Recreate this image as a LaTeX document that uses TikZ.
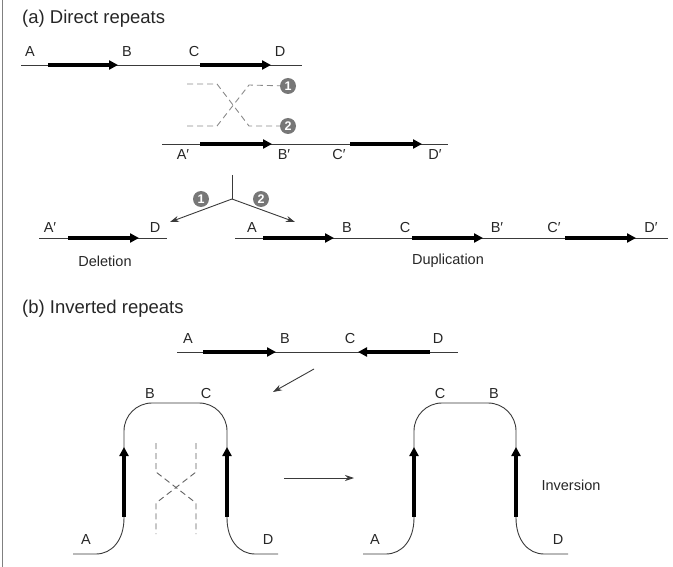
\documentclass[tikz,border=0pt]{standalone}
\usepackage{fontspec}
\setmainfont{Liberation Sans}
\usetikzlibrary{arrows.meta}

\definecolor{strandgray}{HTML}{3A3A3A}
\definecolor{dashgray}{HTML}{8A8A8A}
\definecolor{numgray}{HTML}{777777}

\begin{document}
\begin{tikzpicture}[x=1pt, y=-1pt,
    strand/.style={draw=strandgray, line width=0.9pt},
    repeatarrow/.style={line width=4pt, -{Triangle[length=9pt,width=9pt]}},
    cross/.style={draw=dashgray, line width=0.9pt, dash pattern=on 6pt off 4pt},
    proc/.style={draw=strandgray, line width=0.9pt},
    procarrow/.style={proc, -{Stealth[length=9pt,width=6pt]}},
    lbl/.style={font=\fontsize{14.5}{17}\selectfont, text=black!85, inner sep=0pt},
    ttl/.style={font=\fontsize{18.5}{22}\selectfont, text=black!85, anchor=west, inner sep=0pt},
    num/.style={circle, fill=numgray, text=white, font=\fontsize{12.5}{13}\selectfont\bfseries,
                inner sep=0pt, minimum size=16pt}]
  \useasboundingbox (0,0) rectangle (673,567);
  \draw[gray, line width=1.2pt] (2.5,0) -- (2.5,567);

  % (a) Direct repeats
  \node[ttl] (titlea) at (22,19) {(a) Direct repeats};

  \draw[strand] (21,65) -- (302,65);
  \draw[repeatarrow] (48,65) -- (118,65);
  \draw[repeatarrow] (200,65) -- (271,65);
  \node[lbl] (a1) at (30,52) {A};
  \node[lbl] (b1) at (127,52) {B};
  \node[lbl] (c1) at (194,52) {C};
  \node[lbl] (d1) at (280,52) {D};

  \node[num] (n1) at (288,86) {1};
  \node[num] (n2) at (288,126) {2};
  \draw[cross] (187,84) -- (217,84) -- (249,126) -- (n2);
  \draw[cross] (187,126) -- (217,126) -- (249,85) -- (n1);

  \draw[strand] (162,144) -- (448,144);
  \draw[repeatarrow] (200,144) -- (272,144);
  \draw[repeatarrow] (350,144) -- (422,144);
  \node[lbl] (a2) at (183,155) {A′};
  \node[lbl] (b2) at (284,155) {B′};
  \node[lbl] (c2) at (339,155) {C′};
  \node[lbl] (d2) at (435,155) {D′};

  % Split into the two products
  \coordinate (stem) at (232,175);
  \coordinate (fork) at (232,199);
  \coordinate (delend) at (170,222);
  \coordinate (dupend) at (295,222);
  \draw[proc] (stem) -- (fork);
  \draw[procarrow] (fork) -- (delend);
  \draw[procarrow] (fork) -- (dupend);
  \node[num] (s1) at (201,199) {1};
  \node[num] (s2) at (261,199) {2};

  \draw[strand] (39,238) -- (167,238);
  \draw[repeatarrow] (68,238) -- (139,238);
  \node[lbl] (a3) at (50,228) {A′};
  \node[lbl] (d3) at (155,228) {D};
  \node[lbl] (del) at (105,261) {Deletion};

  \draw[strand] (235,238) -- (668,238);
  \draw[repeatarrow] (263,238) -- (334,238);
  \draw[repeatarrow] (412,238) -- (483,238);
  \draw[repeatarrow] (565,238) -- (636,238);
  \node[lbl] (a4) at (252,228) {A};
  \node[lbl] (b4) at (347,228) {B};
  \node[lbl] (c4) at (405,228) {C};
  \node[lbl] (b5) at (497,228) {B′};
  \node[lbl] (c5) at (554,228) {C′};
  \node[lbl] (d5) at (651,228) {D′};
  \node[lbl] (dup) at (448,261) {Duplication};

  % (b) Inverted repeats
  \node[ttl] (titleb) at (22,309) {(b) Inverted repeats};

  \draw[strand] (177,352) -- (458,352);
  \draw[repeatarrow] (203,352) -- (276,352);
  \draw[repeatarrow] (430,352) -- (358,352);
  \node[lbl] (a6) at (188,339) {A};
  \node[lbl] (b6) at (285,339) {B};
  \node[lbl] (c6) at (350,339) {C};
  \node[lbl] (d6) at (438,339) {D};

  \coordinate (foldstart) at (314,369);
  \coordinate (foldend) at (273,392);
  \draw[procarrow] (foldstart) -- (foldend);

  % folded strand
  \draw[strand] (73,554) -- (96,554) .. controls (112,554) and (124,540) .. (124,518);
  \draw[strand, rounded corners=28pt] (124,518) -- (124,403) -- (227,403) -- (227,518);
  \draw[strand] (227,518) .. controls (227,540) and (239,554) .. (255,554) -- (278,554);
  \draw[repeatarrow] (124,517) -- (124,447);
  \draw[repeatarrow] (227,517) -- (227,447);
  \draw[cross, draw=strandgray!80] (156,443) -- (156,472) -- (196,503) -- (196,534);
  \draw[cross, draw=strandgray!80] (196,443) -- (196,472) -- (156,503) -- (156,534);
  \node[lbl] (b7) at (150,394) {B};
  \node[lbl] (c7) at (206,394) {C};
  \node[lbl] (a7) at (86,540) {A};
  \node[lbl] (d7) at (268,540) {D};

  \coordinate (invstart) at (284,478);
  \coordinate (invend) at (354,478);
  \draw[procarrow] (invstart) -- (invend);

  % inverted strand
  \draw[strand] (363,554) -- (386,554) .. controls (402,554) and (414,540) .. (414,518);
  \draw[strand, rounded corners=28pt] (414,518) -- (414,403) -- (516,403) -- (516,518);
  \draw[strand] (516,518) .. controls (516,540) and (528,554) .. (544,554) -- (568,554);
  \draw[repeatarrow] (414,517) -- (414,447);
  \draw[repeatarrow] (516,517) -- (516,447);
  \node[lbl] (c8) at (440,394) {C};
  \node[lbl] (b8) at (494,394) {B};
  \node[lbl] (a8) at (375,540) {A};
  \node[lbl] (d8) at (558,540) {D};
  \node[lbl] (inv) at (571,485) {Inversion};
\end{tikzpicture}
\end{document}
